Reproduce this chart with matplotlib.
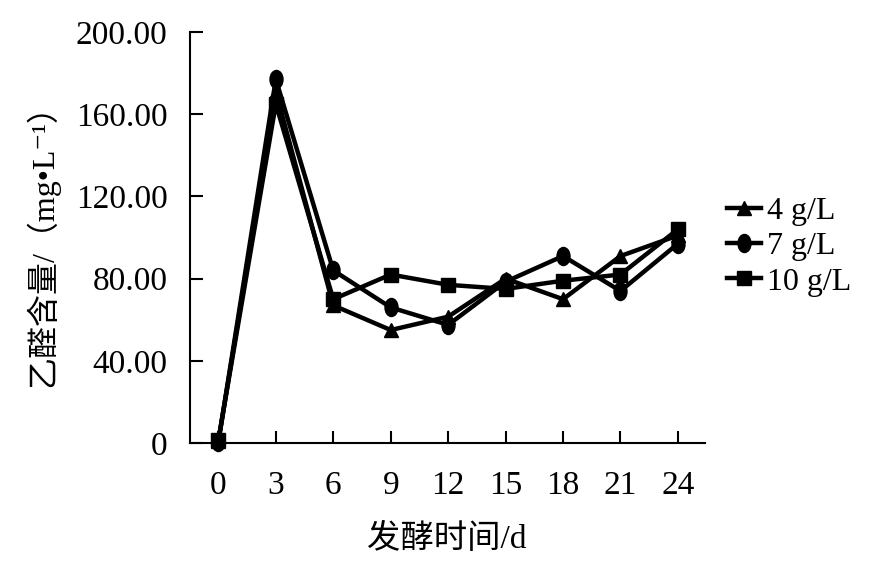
import matplotlib
matplotlib.use("Agg")
import matplotlib.pyplot as plt
from matplotlib.path import Path
import numpy as np

plt.rcParams['font.family'] = ['Liberation Serif', 'Noto Sans CJK SC', 'DejaVu Sans']

days = [0, 3, 6, 9, 12, 15, 18, 21, 24]
y_4 = [1.0, 171, 67, 55, 61.5, 80, 70, 91, 101]
y_7 = [0.5, 177, 84, 66, 57.5, 78.5, 91, 74, 97]
y_10 = [1.5, 165, 70, 82, 77, 75, 79, 82, 104]
labels = ['4 g/L', '7 g/L', '10 g/L']
yticks = [0, 40, 80, 120, 160, 200]
ytick_labels = ['0', '40.00', '80.00', '120.00', '160.00', '200.00']

# vertically elongated ellipse marker
uc = Path.unit_circle()
ellipse = Path(uc.vertices * np.array([0.72, 1.0]), uc.codes)

fig = plt.figure(figsize=(8.7, 5.71), dpi=100)
ax = fig.add_axes([0.218, 0.224, 0.592, 0.720])

common = dict(color='black', lw=3.2, clip_on=False)
ax.plot(days, y_4, marker='^', ms=10, label=labels[0], **common)
ax.plot(days, y_7, marker=ellipse, ms=13, label=labels[1], **common)
ax.plot(days, y_10, marker='s', ms=10, label=labels[2], **common)

ax.set_xlim(-1.5, 25.4)
ax.set_ylim(0, 200)
ax.set_xticks(days)
ax.set_xticklabels([str(d) for d in days])
ax.set_yticks(yticks)
ax.set_yticklabels(ytick_labels)
for s in ['top', 'right']:
    ax.spines[s].set_visible(False)
for s in ['left', 'bottom']:
    ax.spines[s].set_linewidth(1.5)
ax.tick_params(axis='both', direction='in', length=9, width=1.5, labelsize=24)
ax.tick_params(axis='x', pad=20)
ax.tick_params(axis='y', pad=16)

ax.set_xlabel('发酵时间/d', fontsize=24, labelpad=16)
ax.set_ylabel('乙醛含量/（mg•L⁻¹）', fontsize=23, labelpad=12)

leg = fig.legend(loc='upper left', bbox_to_anchor=(0.836, 0.655), frameon=False,
                 fontsize=23, handlelength=1.05, handletextpad=0.2, labelspacing=0.18,
                 borderaxespad=0, borderpad=0)

fig.savefig('out.png', dpi=100, facecolor='white')
